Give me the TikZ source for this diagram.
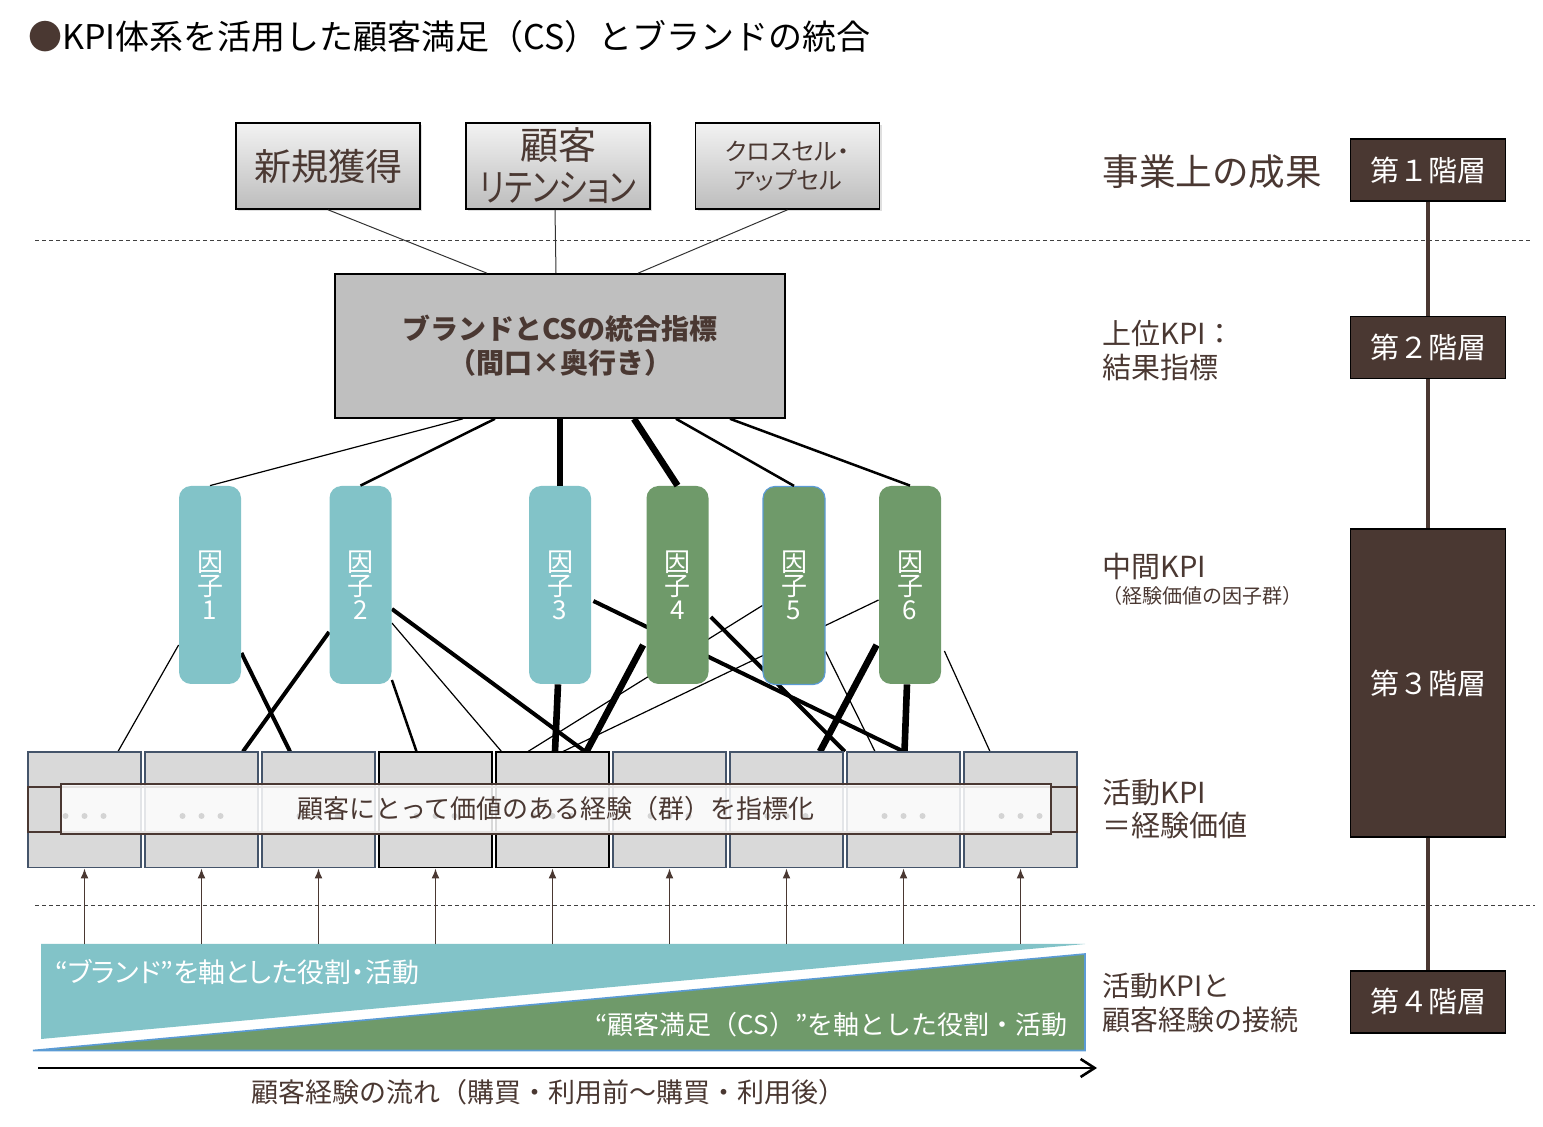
\documentclass[tikz,border=0pt]{standalone}
\usepackage{fontspec}
\setmainfont{Noto Sans CJK JP}
\newfontfamily\paltjp[RawFeature=+palt]{Noto Sans CJK JP}
\usepackage{tikz}
\usetikzlibrary{positioning,arrows.meta,calc,shadows,backgrounds}

\definecolor{brn}{RGB}{74,56,50}
\definecolor{tealc}{RGB}{130,195,200}
\definecolor{grnc}{RGB}{111,154,106}
\definecolor{edgeb}{RGB}{91,155,213}
\definecolor{slate}{RGB}{68,84,106}
\definecolor{boxg}{RGB}{217,217,217}
\definecolor{kpig}{RGB}{191,191,191}
\definecolor{dotg}{RGB}{212,212,212}

\newcommand{\fsz}[2]{\fontsize{#1}{#2}\selectfont}

\tikzset{
outcome/.style = {draw, line width=0.8pt, top color=black!5, bottom color=black!26,
  drop shadow={opacity=0.25,shadow xshift=1.2pt,shadow yshift=-1.2pt},
  minimum width=92pt, minimum height=43pt, inner sep=0pt, align=center, text=brn},
factor/.style = {rounded corners=6pt, fill=#1, text=white, minimum width=31pt,
  minimum height=99pt, inner sep=0pt, align=center, font=\fsz{13}{12}},
factor/.default = tealc,
act/.style = {draw=#1, line width=0.75pt, fill=boxg, minimum width=56.5pt,
  minimum height=57.75pt, inner sep=0pt},
layer/.style = {draw=black, line width=0.8pt, fill=brn, text=white,
  minimum width=77.5pt, minimum height=#1, font=\fsz{14.5}{17}},
layer/.default = 31pt,
lbl/.style = {anchor=west, inner sep=0pt, text=brn, align=left},
sepline/.style = {black!75, line width=0.5pt, dash pattern=on 2pt off 1.5pt},
ln0/.style = {black!80, line width=0.5pt},
ln1/.style = {line width=0.6pt},
ln2/.style = {line width=1.25pt},
ln3/.style = {line width=2pt},
ln4/.style = {line width=3.3pt}
}

\begin{document}
\begin{tikzpicture}[x=0.5pt,y=-0.5pt]
\useasboundingbox (0,0) rectangle (1543,1127);

\node[anchor=west,inner sep=0pt,font=\fsz{17}{20}] (title) at (28,37)
  {\textcolor{brn}{●}KPI体系を活用した顧客満足（CS）とブランドの統合};

% business outcomes
\node[outcome,font=\fsz{18.5}{21}] (acq) at (328,166) {新規獲得};
\node[outcome,font=\fsz{19}{21}] (ret) at (558,166)
  {顧客\\\scalebox{0.8}[1]{\paltjp リテンション}};
\node[outcome,font=\paltjp\fsz{12}{14.5}] (xsell) at (787.5,166) {クロスセル・\\アップセル};

\draw[sepline] (35,241) -- (1530,241);
\draw[sepline] (35,906) -- (1535,906);

\node[draw,line width=0.8pt,fill=kpig,minimum width=225pt,minimum height=72pt,
  align=center,text=brn,font=\bfseries\fsz{14}{17}] (kpi) at (560,346)
  {ブランドとCSの統合指標\\（間口×奥行き）};

\draw[ln0] (acq.south) -- ($(kpi.north)+(-73,0)$);
\draw[ln0] ($(ret.south)+(-3,0)$) -- ($(kpi.north)+(-4,0)$);
\draw[ln0] (xsell.south) -- ($(kpi.north)+(78,0)$);

% factors
\node[factor] (f1) at (210,585) {因\\子\\1};
\node[factor] (f2) at (360.5,585) {因\\子\\2};
\node[factor] (f3) at (560,585) {因\\子\\3};
\node[factor=grnc] (f4) at (677.5,585) {因\\子\\4};
\node[factor=grnc,draw=edgeb,line width=0.6pt] (f5) at (794,585.5) {因\\子\\5};
\node[factor=grnc] (f6) at (910,585) {因\\子\\6};

\draw[ln1] ($(kpi.south)+(-97,0)$) -- (f1.north);
\draw[ln2] ($(kpi.south)+(-65,0)$) -- (f2.north);
\draw[ln4] (kpi.south) -- (f3.north);
\draw[ln4] ($(kpi.south)+(74,0)$) -- (f4.north);
\draw[ln2] ($(kpi.south)+(116,0)$) -- (f5.north);
\draw[ln2] ($(kpi.south)+(170,0)$) -- (f6.north);

% activity boxes
\foreach \i/\c in {1/slate,2/slate,3/slate,4/black,5/black,6/slate,7/slate,8/slate,9/slate}
  \node[act=\c] (b\i) at ({84.5+117*(\i-1)},810) {};

\begin{scope}[on background layer]
\draw[ln1] ($(f1.west)+(0,60)$) -- ($(b1.north)+(33.5,0)$);
\draw[ln3] ($(f1.east)+(0,68)$) -- ($(b3.north)+(-28.5,0)$);
\draw[ln3] ($(f2.west)+(0,47)$) -- ($(b2.north)+(41.5,0)$);
\draw[ln2] ($(f2.east)+(0,95)$) -- ($(b4.north)+(-19,0)$);
\draw[ln1] ($(f2.east)+(0,38)$) -- ($(b5.north)+(-51,0)$);
\draw[ln3] ($(f2.east)+(0,24)$) -- ($(b5.north)+(32.5,0)$);
\draw[ln4] ($(f3.south)+(-2,0)$) -- ($(b5.north)+(2.5,0)$);
\draw[ln3] ($(f3.east)+(2,16)$) -- (b8.north);
\draw[ln4] ($(f4.west)+(-3,60)$) -- ($(b5.north)+(34,0)$);
\draw[ln3] ($(f4.east)+(2,32)$) -- ($(b8.north west)+(-1.5,0)$);
\draw[ln1] ($(f5.west)+(0,20)$) -- ($(b5.north)+(-24.5,0)$);
\draw[ln1] ($(f5.east)+(0,66)$) -- ($(b8.north)+(-28.5,0)$);
\draw[ln1] ($(f6.west)+(0,15)$) -- ($(b5.north)+(10.5,0)$);
\draw[ln4] ($(f6.west)+(-2,60)$) -- ($(b7.north)+(33.5,0)$);
\draw[ln4] ($(f6.south)+(-3,0)$) -- ($(b8.north)+(1,0)$);
\draw[ln1] ($(f6.east)+(3,66)$) -- ($(b9.north)+(-30.5,0)$);
\end{scope}

\node[draw=brn,line width=0.9pt,minimum width=524.5pt,minimum height=22.5pt,
  inner sep=0pt] (strip) at (552.5,809.5) {};
\node[draw=brn,line width=0.9pt,fill=white,fill opacity=0.85,minimum width=495pt,
  minimum height=25pt,inner sep=0pt] (band) at (556,809) {};
\foreach \i in {1,...,9}
  \foreach \d in {-19,0,19}
    \fill[dotg] ($(b\i.center)+(\d,6)$) circle[radius=1.5pt];
\node[text=brn,font=\fsz{13}{15}] (bandtxt) at (band.center)
  {顧客にとって価値のある経験（群）を指標化};

% roles along the customer journey
\fill[tealc] (41,944) -- (1085,944) -- (41,1039) -- cycle;
\filldraw[fill=grnc,draw=edgeb,line width=0.8pt] (33,1050.5) -- (1085,954) -- (1085,1050.5) -- cycle;
\node[lbl,text=white,font=\paltjp\fsz{13.5}{15}] (brandrole) at (55,972)
  {“ブランド”を軸とした役割・活動};
\node[anchor=east,inner sep=0pt,text=white,font=\fsz{13}{15}] (csrole) at (1068,1025)
  {“顧客満足（CS）”を軸とした役割・活動};

\foreach \i in {1,...,9}{
  \coordinate (a\i) at ($(b\i.south)+(0,76)$);
  \draw[brn,line width=0.7pt,-{Latex[length=5pt,width=4pt]}] (a\i) -- (b\i.south);
}

\coordinate (flowL) at (38,1068);
\coordinate (flowR) at (1097,1068);
\draw[line width=1.3pt,-{Straight Barb[length=7pt,width=9pt]}] (flowL) -- (flowR);
\node[text=brn,font=\fsz{13.5}{16}] (flowtxt) at (548,1092)
  {顧客経験の流れ（購買・利用前～購買・利用後）};

% layers
\node[lbl,font=\fsz{18.3}{21}] (res) at (1102,172) {事業上の成果};
\node[lbl,font=\fsz{14.5}{17}] (upper) at (1102,351) {上位KPI：\\結果指標};
\node[lbl,font=\fsz{14.5}{17}] (mid) at (1102,566) {中間KPI};
\node[lbl,font=\fsz{10}{12}] (midsub) at (1102,596) {（経験価値の因子群）};
\node[lbl,font=\fsz{14.5}{16.5}] (actk) at (1102,809.5) {活動KPI\\＝経験価値};
\node[lbl,font=\fsz{14}{17}] (link) at (1102,1003) {活動KPIと\\顧客経験の接続};

\node[layer] (l1) at (1428,170) {第１階層};
\node[layer,below=57pt of l1] (l2) {第２階層};
\node[layer=154pt,below=74.5pt of l2] (l3) {第３階層};
\node[layer,below=66pt of l3] (l4) {第４階層};
\draw[brn,line width=2pt] (l1) -- (l2);
\draw[brn,line width=2pt] (l2) -- (l3);
\draw[brn,line width=2pt] (l3) -- (l4);
\end{tikzpicture}
\end{document}
